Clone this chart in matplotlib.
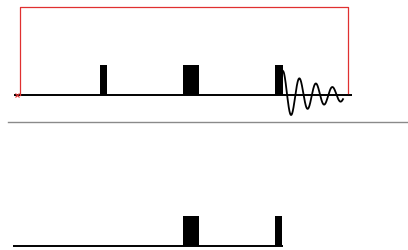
import numpy as np
import matplotlib
matplotlib.use("Agg")
import matplotlib.pyplot as plt

# Channel 1 (top) pulses: (left, right, top) in pixel units
top_baseline_y = 95
top_baseline_x = [14, 352]
top_pulses_left = [100, 183, 275]
top_pulses_right = [107, 199, 283]
top_pulses_top = [65, 65, 65]

# Channel 2 (bottom)
bot_baseline_y = 246
bot_baseline_x = [13, 283]
bot_pulses_left = [183, 275]
bot_pulses_right = [199, 282]
bot_pulses_top = [216, 216]

# Red loop bracket
loop_x = [20, 20, 348, 348]
loop_y = [95, 7, 7, 93]

# Separator
sep_x = [8, 408]
sep_y = 122

# FID parameters
fid_start, fid_end = 283, 343
fid_amp = 24
fid_period = 16.5
fid_decay = 45

fig = plt.figure(figsize=(4.08, 2.5), dpi=100)
ax = fig.add_axes([0, 0, 1, 1])
ax.set_xlim(0, 408)
ax.set_ylim(250, 0)
ax.axis("off")

# baselines
ax.plot(top_baseline_x, [top_baseline_y] * 2, color="black", lw=1.4, solid_capstyle="butt")
ax.plot(bot_baseline_x, [bot_baseline_y] * 2, color="black", lw=1.4, solid_capstyle="butt")

# pulses
for l, r, t in zip(top_pulses_left, top_pulses_right, top_pulses_top):
    ax.fill([l, l, r, r], [top_baseline_y, t, t, top_baseline_y], color="black", lw=0)
for l, r, t in zip(bot_pulses_left, bot_pulses_right, bot_pulses_top):
    ax.fill([l, l, r, r], [bot_baseline_y, t, t, bot_baseline_y], color="black", lw=0)

# FID
t = np.linspace(0, fid_end - fid_start, 400)
y = top_baseline_y - fid_amp * np.exp(-t / fid_decay) * np.cos(2 * np.pi * t / fid_period)
ax.plot(fid_start + t, y, color="black", lw=1.3)

# red loop
ax.plot(loop_x, loop_y, color="#e03030", lw=0.9)
ax.plot([17], [95], marker="x", color="#e03030", ms=3, mew=0.8)

# separator
ax.plot(sep_x, [sep_y] * 2, color="#8a8a8a", lw=1.0)

fig.savefig("out.png", dpi=100)
